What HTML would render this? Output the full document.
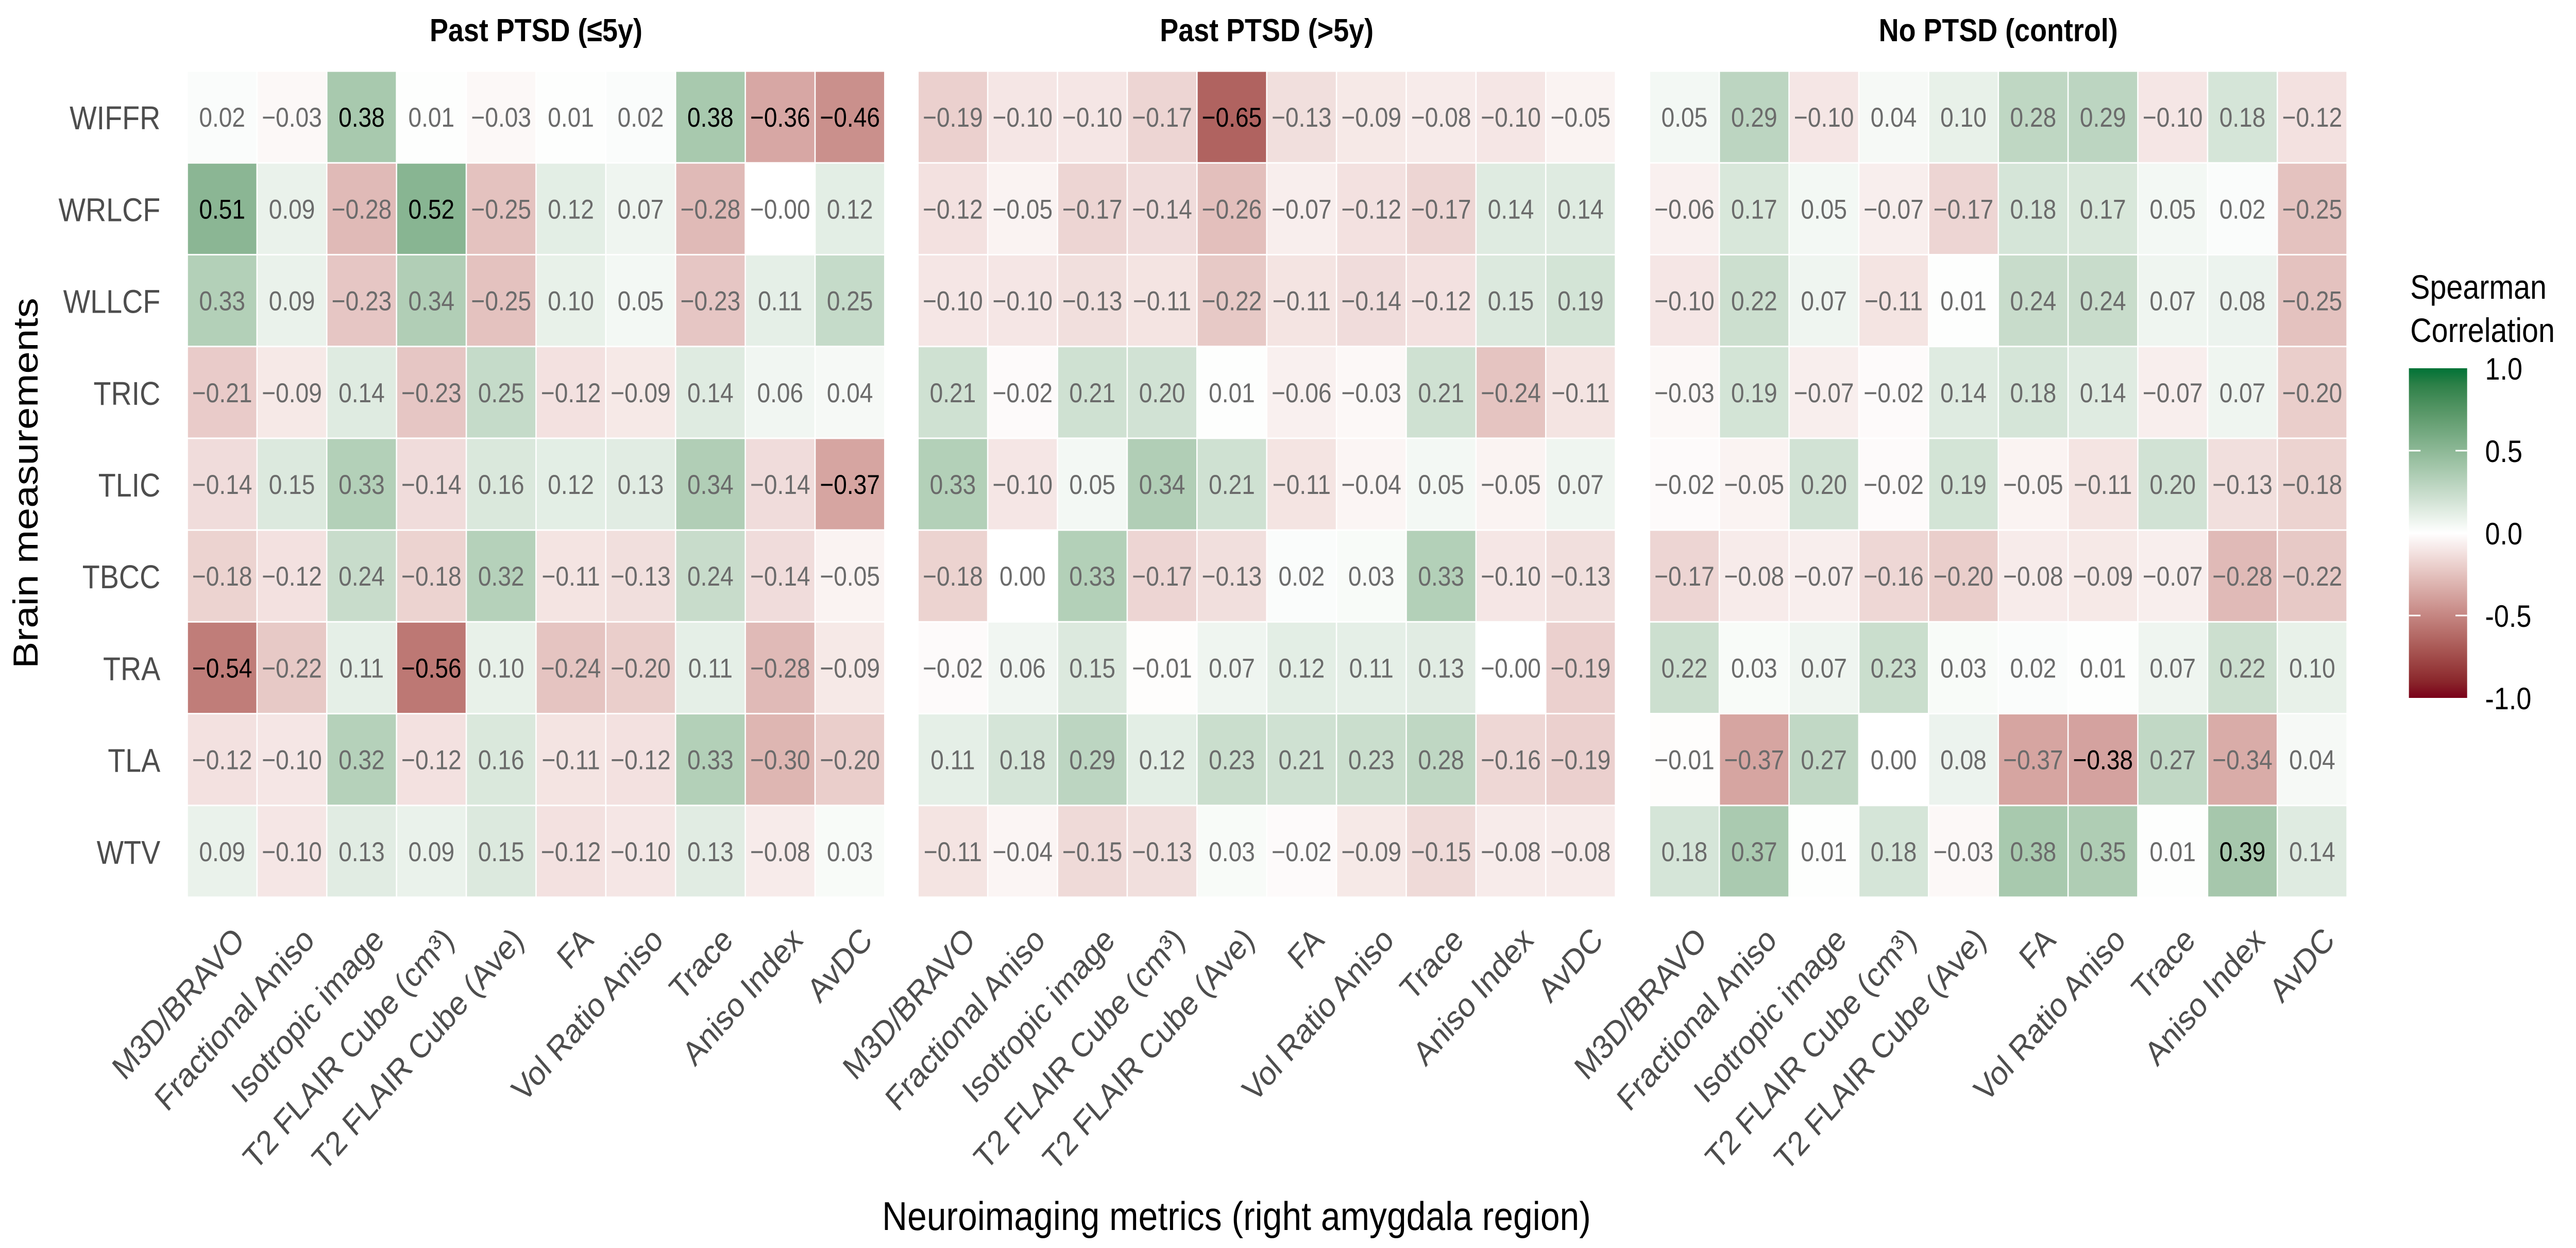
<!DOCTYPE html>
<html><head><meta charset="utf-8">
<style>
html,body{margin:0;padding:0;background:#fff;overflow:hidden;width:100%;height:100%;}
svg{display:block;font-family:"Liberation Sans",Arial,sans-serif;width:100vw;height:100vh;}
</style></head>
<body>
<svg id="chart" viewBox="0 0 5750 2423" preserveAspectRatio="none" xmlns="http://www.w3.org/2000/svg">
<rect x="0" y="0" width="5750" height="2423" fill="#fff"/>
<g id="panels"></g>
<text x="2760" y="2388" font-size="78" text-anchor="middle" fill="#000">Neuroimaging metrics (right amygdala region)</text>
<text transform="translate(84,938) rotate(-90)" font-size="78" text-anchor="middle" fill="#000">Brain measurements</text>
<g>
<text x="5380" y="580" font-size="66" fill="#000">Spearman</text>
<text x="5380" y="664" font-size="66" fill="#000">Correlation</text>
<defs><linearGradient id="lg" x1="0" y1="0" x2="0" y2="1"></linearGradient></defs>
<rect x="5377" y="715" width="130" height="640" fill="url(#lg)"/>
<g id="legendTicks"></g>
</g>
</svg>
<script>
const rows = ["WIFFR","WRLCF","WLLCF","TRIC","TLIC","TBCC","TRA","TLA","WTV"];
const cols = ["M3D/BRAVO","Fractional Aniso","Isotropic image","T2 FLAIR Cube (cm³)","T2 FLAIR Cube (Ave)","FA","Vol Ratio Aniso","Trace","Aniso Index","AvDC"];
const panelTitles = ["Past PTSD (≤5y)","Past PTSD (>5y)","No PTSD (control)"];
const valuesPast5 = [
 [0.02,-0.03,0.38,0.01,-0.03,0.01,0.02,0.38,-0.36,-0.46],
 [0.51,0.09,-0.28,0.52,-0.25,0.12,0.07,-0.28,-0,0.12],
 [0.33,0.09,-0.23,0.34,-0.25,0.10,0.05,-0.23,0.11,0.25],
 [-0.21,-0.09,0.14,-0.23,0.25,-0.12,-0.09,0.14,0.06,0.04],
 [-0.14,0.15,0.33,-0.14,0.16,0.12,0.13,0.34,-0.14,-0.37],
 [-0.18,-0.12,0.24,-0.18,0.32,-0.11,-0.13,0.24,-0.14,-0.05],
 [-0.54,-0.22,0.11,-0.56,0.10,-0.24,-0.20,0.11,-0.28,-0.09],
 [-0.12,-0.10,0.32,-0.12,0.16,-0.11,-0.12,0.33,-0.30,-0.20],
 [0.09,-0.10,0.13,0.09,0.15,-0.12,-0.10,0.13,-0.08,0.03]];
const valuesPastOver5 = [
 [-0.19,-0.10,-0.10,-0.17,-0.65,-0.13,-0.09,-0.08,-0.10,-0.05],
 [-0.12,-0.05,-0.17,-0.14,-0.26,-0.07,-0.12,-0.17,0.14,0.14],
 [-0.10,-0.10,-0.13,-0.11,-0.22,-0.11,-0.14,-0.12,0.15,0.19],
 [0.21,-0.02,0.21,0.20,0.01,-0.06,-0.03,0.21,-0.24,-0.11],
 [0.33,-0.10,0.05,0.34,0.21,-0.11,-0.04,0.05,-0.05,0.07],
 [-0.18,0.00,0.33,-0.17,-0.13,0.02,0.03,0.33,-0.10,-0.13],
 [-0.02,0.06,0.15,-0.01,0.07,0.12,0.11,0.13,-0,-0.19],
 [0.11,0.18,0.29,0.12,0.23,0.21,0.23,0.28,-0.16,-0.19],
 [-0.11,-0.04,-0.15,-0.13,0.03,-0.02,-0.09,-0.15,-0.08,-0.08]];
const valuesControl = [
 [0.05,0.29,-0.10,0.04,0.10,0.28,0.29,-0.10,0.18,-0.12],
 [-0.06,0.17,0.05,-0.07,-0.17,0.18,0.17,0.05,0.02,-0.25],
 [-0.10,0.22,0.07,-0.11,0.01,0.24,0.24,0.07,0.08,-0.25],
 [-0.03,0.19,-0.07,-0.02,0.14,0.18,0.14,-0.07,0.07,-0.20],
 [-0.02,-0.05,0.20,-0.02,0.19,-0.05,-0.11,0.20,-0.13,-0.18],
 [-0.17,-0.08,-0.07,-0.16,-0.20,-0.08,-0.09,-0.07,-0.28,-0.22],
 [0.22,0.03,0.07,0.23,0.03,0.02,0.01,0.07,0.22,0.10],
 [-0.01,-0.37,0.27,0.00,0.08,-0.37,-0.38,0.27,-0.34,0.04],
 [0.18,0.37,0.01,0.18,-0.03,0.38,0.35,0.01,0.39,0.14]];
const sigPast5 = [[0,0,1,0,0,0,0,1,1,1],[1,0,0,1,0,0,0,0,0,0],[0,0,0,0,0,0,0,0,0,0],[0,0,0,0,0,0,0,0,0,0],[0,0,0,0,0,0,0,0,0,1],[0,0,0,0,0,0,0,0,0,0],[1,0,0,1,0,0,0,0,0,0],[0,0,0,0,0,0,0,0,0,0],[0,0,0,0,0,0,0,0,0,0]];
const sigPastOver5 = [[0,0,0,0,1,0,0,0,0,0],[0,0,0,0,0,0,0,0,0,0],[0,0,0,0,0,0,0,0,0,0],[0,0,0,0,0,0,0,0,0,0],[0,0,0,0,0,0,0,0,0,0],[0,0,0,0,0,0,0,0,0,0],[0,0,0,0,0,0,0,0,0,0],[0,0,0,0,0,0,0,0,0,0],[0,0,0,0,0,0,0,0,0,0]];
const sigControl = [[0,0,0,0,0,0,0,0,0,0],[0,0,0,0,0,0,0,0,0,0],[0,0,0,0,0,0,0,0,0,0],[0,0,0,0,0,0,0,0,0,0],[0,0,0,0,0,0,0,0,0,0],[0,0,0,0,0,0,0,0,0,0],[0,0,0,0,0,0,0,0,0,0],[0,0,0,0,0,0,1,0,0,0],[0,0,0,0,0,0,0,0,1,0]];
const legendTicks = [1.0,0.5,0.0,-0.5,-1.0];
const legendTickLabels = ["1.0","0.5","0.0","-0.5","-1.0"];

const NS="http://www.w3.org/2000/svg";
const panelLeft=[418,2049,3682], panelW=1557, plotTop=138, plotBottom=1742;
const cellW=panelW/cols.length, cellH=(plotBottom-plotTop)/rows.length;
function xScale(p,j){return panelLeft[p]+j*cellW;}
function yScale(i){return plotTop+i*cellH;}
function legendY(v){return 715+(1-v)/2*640;}

function s2l(c){c/=255;return c<=0.04045?c/12.92:Math.pow((c+0.055)/1.055,2.4);}
function l2s(c){c=c<=0.0031308?12.92*c:1.055*Math.pow(c,1/2.4)-0.055;return Math.max(0,Math.min(255,Math.round(c*255)));}
function toLab(rgb){let [r,g,b]=rgb.map(s2l);let X=(0.4124*r+0.3576*g+0.1805*b)/0.95047,Y=0.2126*r+0.7152*g+0.0722*b,Z=(0.0193*r+0.1192*g+0.9505*b)/1.08883;
 const f=t=>t>0.008856?Math.cbrt(t):7.787*t+16/116;return [116*f(Y)-16,500*(f(X)-f(Y)),200*(f(Y)-f(Z))];}
function fromLab(L){let fy=(L[0]+16)/116,fx=fy+L[1]/500,fz=fy-L[2]/200;const fi=t=>t*t*t>0.008856?t*t*t:(t-16/116)/7.787;
 let X=fi(fx)*0.95047,Y=fi(fy),Z=fi(fz)*1.08883;
 let r=3.2406*X-1.5372*Y-0.4986*Z,g=-0.9689*X+1.8758*Y+0.0415*Z,b=0.0557*X-0.2040*Y+1.0570*Z;
 return "rgb("+l2s(r)+","+l2s(g)+","+l2s(b)+")";}
const hiLab=toLab([0,114,54]),loLab=toLab([122,0,25]),midLab=toLab([255,255,255]);
function color(v){const t=Math.min(1,Math.abs(v));const e=v>=0?hiLab:loLab;return fromLab(midLab.map((m,k)=>m+(e[k]-m)*t));}
function fmt(v){const s=Math.abs(v).toFixed(2);return (v<0||Object.is(v,-0))?"\u2212"+s:s;}

const panelsG=document.getElementById("panels");
const allVals=[valuesPast5,valuesPastOver5,valuesControl];
const allSig=[sigPast5,sigPastOver5,sigControl];
function mk(tag,attrs,parent){const e=document.createElementNS(NS,tag);for(const k in attrs)e.setAttribute(k,attrs[k]);parent.appendChild(e);return e;}
allVals.forEach((vals,p)=>{
 const g=mk("g",{},panelsG);
 
 
 const t=mk("text",{x:panelLeft[p]+panelW/2,y:80,"font-size":62,"font-weight":"bold","text-anchor":"middle",fill:"#000"},g);
 
 
 t.textContent=panelTitles[p];
 vals.forEach((row,i)=>{
  row.forEach((v,j)=>{
   const r=mk("rect",{x:xScale(p,j)+1.5,y:yScale(i)+1.5,width:cellW-3,height:cellH-3,fill:color(v)},g);
   
   
   const tx=mk("text",{x:xScale(p,j)+cellW/2,y:yScale(i)+cellH/2+19,"font-size":53,"text-anchor":"middle",fill:allSig[p][i][j]?"#000":"#6b6b6b"},g);
   
   
   tx.textContent=fmt(v);
  });
 });
 cols.forEach((c,j)=>{
  const cx=xScale(p,j)+cellW/2+20, cy=1795;
  const tl=mk("text",{transform:"translate("+cx+","+cy+") rotate(-45)","font-size":66,"text-anchor":"end",fill:"#4d4d4d",dy:"0.72em"},g);
  
  
  tl.textContent=c;
 });
});
rows.forEach((r,i)=>{
 const t=mk("text",{x:358,y:yScale(i)+cellH/2+24,"font-size":64,"text-anchor":"end",fill:"#4d4d4d"},panelsG);
 
 
 t.textContent=r;
});
const lg=document.getElementById("lg");
for(let k=0;k<=20;k++){const v=1-k/10;mk("stop",{offset:(k/20),"stop-color":color(v)},lg);}
const lt=document.getElementById("legendTicks");
legendTicks.forEach((v,k)=>{
 const y=legendY(v);
 if(Math.abs(v)<1){
  const a=mk("line",{x1:5377,x2:5403,y1:y,y2:y,stroke:"#fff","stroke-width":3},lt);
  
  
  const b=mk("line",{x1:5481,x2:5507,y1:y,y2:y,stroke:"#fff","stroke-width":3},lt);
  
  
 }
 const t=mk("text",{x:5547,y:y+22,"font-size":60,fill:"#000"},lt);
 
 
 t.textContent=legendTickLabels[k];
});
</script>
</body></html>
